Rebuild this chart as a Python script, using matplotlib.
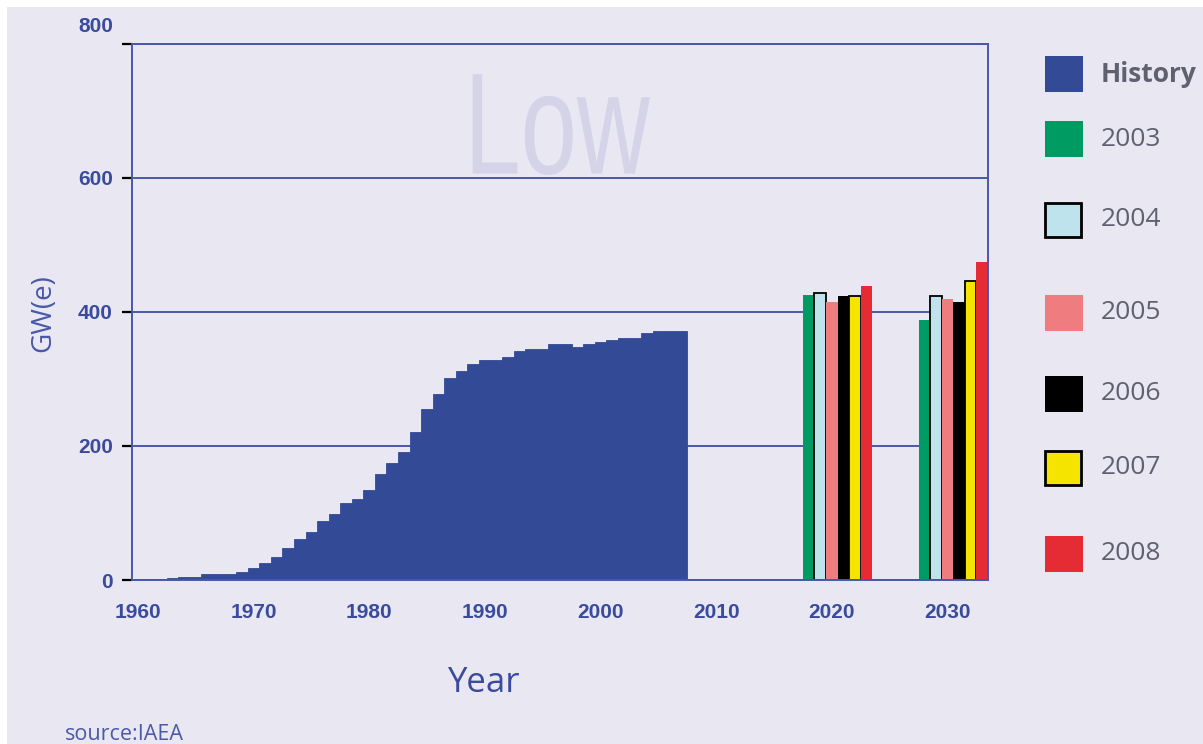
import matplotlib
matplotlib.use("Agg")
import matplotlib.pyplot as plt
from matplotlib import patheffects
from matplotlib.patches import Rectangle
from matplotlib.transforms import Affine2D

# ---- data (GW(e)) ----
hist_years = list(range(1960, 2008))
hist_gw = [1, 1, 2, 3, 5, 5, 8.5, 8.5, 8.5, 11.5,
           18.3, 24.9, 34.7, 48.1, 61.1, 71.1, 88.4, 97.9, 114.8, 121.2,
           134.6, 158, 174.4, 190.8, 221, 254.8, 277.6, 301.5, 311.5, 321.5,
           327.9, 327.9, 331.9, 341.3, 344.7, 344.7, 351.3, 351.3, 347.7, 351.7,
           354.7, 358.1, 361.1, 361.1, 368.1, 371.1, 371.1, 371.1]

proj_labels = ["2003", "2004", "2005", "2006", "2007", "2008"]
proj_2020 = [424.7, 427.3, 414.8, 423.7, 423.2, 438.2]
proj_2030 = [387.5, 423.2, 418.3, 414.8, 446.0, 474.4]
proj_x_2020 = [2018, 2019, 2020, 2021, 2022, 2023]
proj_x_2030 = [2028, 2029, 2030, 2031, 2032, 2033]

tick_years = [1960, 1970, 1980, 1990, 2000, 2010, 2020, 2030]
y_ticks = [0, 200, 400, 600, 800]

HIST_COLOR = "#334a96"
PROJ_COLORS = ["#009a63", "#bfe3ec", "#ef7d80", "#000000", "#f4e400", "#e52b33"]
PROJ_EDGES = [None, "black", None, None, "black", None]
BG = "#e8e7f2"
LINE = "#4858a8"
TXT_BLUE = "#3a4b9e"
LEG_TXT = "#5f6170"


class Squeeze(patheffects.AbstractPathEffect):
    """Narrow a text horizontally around its centre (condensed look)."""

    def __init__(self, sx):
        super().__init__()
        self.sx = sx

    def draw_path(self, renderer, gc, tpath, affine, rgbFace=None):
        ext = tpath.get_extents(affine)
        cx = (ext.x0 + ext.x1) / 2
        squeezed = affine + Affine2D().translate(-cx, 0).scale(self.sx, 1).translate(cx, 0)
        renderer.draw_path(gc, tpath, squeezed, rgbFace)


W, H = 1203, 744
fig = plt.figure(figsize=(W / 100, H / 100), dpi=100)
fig.patch.set_facecolor("white")
fig.add_artist(Rectangle((7 / W, 0), 1, 1 - 7 / H, transform=fig.transFigure,
                         facecolor=BG, edgecolor="none", zorder=-10))

ax = fig.add_axes([132 / W, 1 - 580 / H, (988 - 132) / W, (580 - 43.5) / H])
ax.set_facecolor(BG)
ax.set_axisbelow(True)

# history bars (one per year)
ax.bar(hist_years, hist_gw, width=1, align="edge", color=HIST_COLOR,
       edgecolor=HIST_COLOR, linewidth=0.6)

# projections
for i, lab in enumerate(proj_labels):
    edge = PROJ_EDGES[i]
    kw = dict(edgecolor=edge, linewidth=1.3) if edge else dict(linewidth=0)
    ax.bar([proj_x_2020[i], proj_x_2030[i]], [proj_2020[i], proj_2030[i]],
           width=1, align="edge", color=PROJ_COLORS[i], **kw)

ax.set_xlim(1960, 2034)
ax.set_ylim(0, 800)

ax.yaxis.grid(True, color=LINE, linewidth=1.4)
for s in ax.spines.values():
    s.set_color(LINE)
    s.set_linewidth(1.4)

ax.set_xticks([y + 0.5 for y in tick_years])
ax.set_xticklabels([str(y) for y in tick_years])
ax.set_yticks(y_ticks)
ax.set_yticklabels([str(v) for v in y_ticks[:-1]] + [""])
ax.tick_params(axis="x", length=0, pad=16.5)
ax.tick_params(axis="y", length=7.2, width=1.6, color="black", pad=6.5)
for t in ax.get_xticklabels() + ax.get_yticklabels():
    t.set_fontfamily(["Liberation Sans", "DejaVu Sans"])
    t.set_fontweight("bold")
    t.set_fontsize(15)
    t.set_color(TXT_BLUE)

# the top label sits above its tick in the original
ax.annotate("800", xy=(0, 800), xycoords=("axes fraction", "data"),
            xytext=(-13.7, 12), textcoords="offset points", ha="right", va="center",
            fontfamily=["Liberation Sans", "DejaVu Sans"], fontweight="bold",
            fontsize=15, color=TXT_BLUE, annotation_clip=False)

# big watermark label
ax.text(1996.6, 606, "Low", ha="center", va="baseline", fontsize=104,
        fontfamily=["Liberation Sans", "DejaVu Sans"], color="#d4d3e8", zorder=0,
        path_effects=[Squeeze(0.70)])

# axis titles
fig.text(43 / W, 1 - 313 / H, "GW(e)", rotation=90, ha="center", va="center",
         fontfamily=["Open Sans", "DejaVu Sans"], fontsize=20, color="#4858a8")
fig.text(483.5 / W, 1 - 692 / H, "Year", ha="center", va="baseline",
         fontfamily=["Open Sans", "DejaVu Sans"], fontsize=25, color=TXT_BLUE)
fig.text(65 / W, 1 - 735 / H, "source:IAEA", ha="left", va="center",
         fontfamily=["Open Sans", "DejaVu Sans"], fontsize=15.5, color="#4a5aa8")

# legend, placed by hand to keep the uneven spacing
leg_labels = ["History"] + proj_labels
leg_colors = [HIST_COLOR] + PROJ_COLORS
leg_edges = [None] + PROJ_EDGES
leg_centers = [74, 139, 220, 313, 394, 468, 554]
for lab, col, edge, yc in zip(leg_labels, leg_colors, leg_edges, leg_centers):
    w, h = (36, 34) if edge else (38, 36)
    fig.add_artist(Rectangle((1045 / W, 1 - (yc + h / 2) / H), w / W, h / H,
                             transform=fig.transFigure, facecolor=col,
                             edgecolor=edge if edge else "none",
                             linewidth=2 if edge else 0))
    fig.text(1101 / W, 1 - yc / H, lab, ha="left", va="center",
             fontfamily=["Open Sans", "DejaVu Sans"], fontsize=19,
             fontweight="bold" if lab == "History" else "normal", color=LEG_TXT)

fig.savefig("out.png", dpi=100, facecolor=fig.get_facecolor())
